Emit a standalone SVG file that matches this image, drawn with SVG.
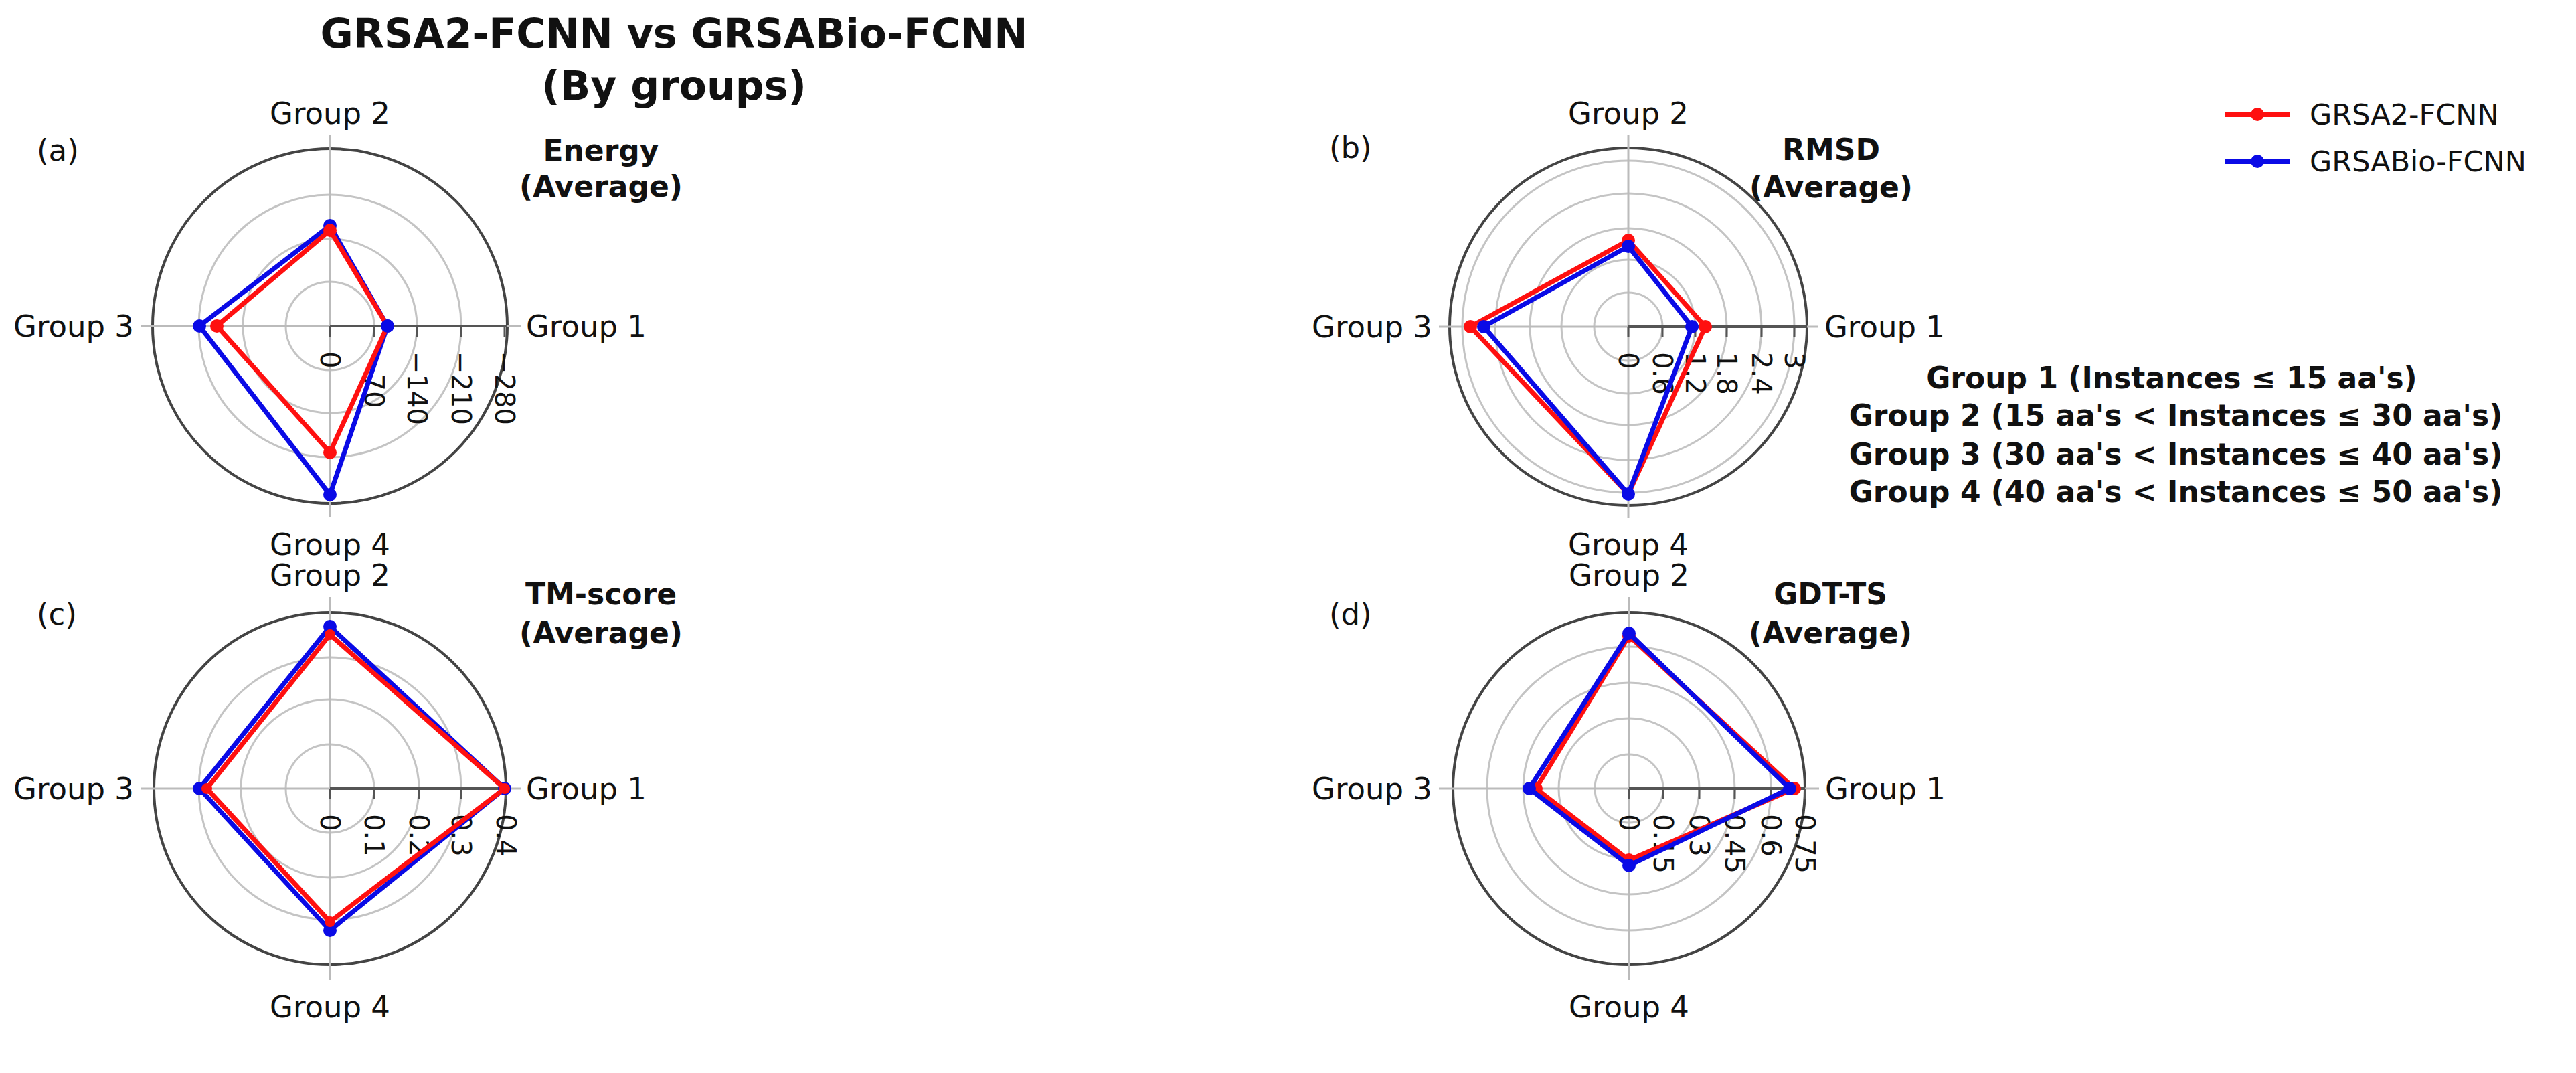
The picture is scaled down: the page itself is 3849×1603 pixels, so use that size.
<svg xmlns="http://www.w3.org/2000/svg" width="3849" height="1603" viewBox="0 0 3849 1603">
<style>
text{font-family:"DejaVu Sans","Verdana",sans-serif;fill:#111}
.lab{font-size:45px;dominant-baseline:central}
.tk{font-size:40px;dominant-baseline:central}
.b{font-weight:bold;font-size:44px;text-anchor:middle;dominant-baseline:central}
.grid{fill:none;stroke:#c4c4c4;stroke-width:3}
.outer{fill:none;stroke:#444;stroke-width:4}
.ax{stroke:#bbb;stroke-width:3}
.rax{stroke:#555;stroke-width:4}
.red{fill:none;stroke:#ff1010;stroke-width:7;stroke-linejoin:round}
.blue{fill:none;stroke:#0a0ae6;stroke-width:7;stroke-linejoin:round}
.rm{fill:#ff1010}.bm{fill:#0a0ae6}
</style>
<rect width="3849" height="1603" fill="#fff"/>
<g id="title">
<text x="1007" y="50" style="font-weight:bold;font-size:60px;text-anchor:middle;dominant-baseline:central">GRSA2-FCNN vs GRSABio-FCNN</text>
<text x="1007" y="128" style="font-weight:bold;font-size:60px;text-anchor:middle;dominant-baseline:central">(By groups)</text>
</g>
<g id="legend">
<line x1="3324" y1="171" x2="3421" y2="171" stroke="#ff1010" stroke-width="8"/><circle cx="3373" cy="171" r="10" class="rm"/>
<text x="3451" y="171" class="lab" style="font-size:43px">GRSA2-FCNN</text>
<line x1="3324" y1="241" x2="3421" y2="241" stroke="#0a0ae6" stroke-width="8"/><circle cx="3373" cy="241" r="10" class="bm"/>
<text x="3451" y="241" class="lab" style="font-size:43px">GRSABio-FCNN</text>
</g>
<g id="groupinfo">
<text x="3245" y="564" class="b">Group 1 (Instances ≤ 15 aa's)</text>
<text x="3251" y="620" class="b">Group 2 (15 aa's &lt; Instances ≤ 30 aa's)</text>
<text x="3251" y="678" class="b">Group 3 (30 aa's &lt; Instances ≤ 40 aa's)</text>
<text x="3251" y="734" class="b">Group 4 (40 aa's &lt; Instances ≤ 50 aa's)</text>
</g>

<g id="panel-a">
<text x="55" y="224" class="lab">(a)</text>
<text x="898" y="224" class="b">Energy</text><text x="898" y="278" class="b">(Average)</text>
<circle cx="493" cy="487" r="66" class="grid"/><circle cx="493" cy="487" r="130" class="grid"/><circle cx="493" cy="487" r="196" class="grid"/>
<circle cx="493" cy="487" r="265" class="outer" stroke-width="6"/>
<line x1="210" y1="487" x2="778" y2="487" class="ax"/><line x1="493" y1="201" x2="493" y2="773" class="ax"/>
<line x1="493" y1="487" x2="758" y2="487" class="rax"/>
<path d="M493 487v16M559 487v16M623 487v16M689 487v16M754 487v16" stroke="#555" stroke-width="3"/>
<text class="tk" transform="translate(493,525) rotate(90)">0</text>
<text class="tk" transform="translate(559,525) rotate(90)">−70</text>
<text class="tk" transform="translate(623,525) rotate(90)">−140</text>
<text class="tk" transform="translate(689,525) rotate(90)">−210</text>
<text class="tk" transform="translate(754,525) rotate(90)">−280</text>
<text x="493" y="169" class="lab" text-anchor="middle">Group 2</text>
<text x="200" y="487" class="lab" text-anchor="end">Group 3</text>
<text x="786" y="487" class="lab">Group 1</text>
<text x="493" y="813" class="lab" text-anchor="middle">Group 4</text>
<polygon points="579,487 493,337 298,487 493,739" class="blue"/>
<g class="bm"><circle cx="579" cy="487" r="10"/><circle cx="493" cy="337" r="10"/><circle cx="298" cy="487" r="10"/><circle cx="493" cy="739" r="10"/></g>
<polygon points="579,487 493,344 324,487 493,676" class="red"/>
<g class="rm"><circle cx="493" cy="344" r="10"/><circle cx="324" cy="487" r="10"/><circle cx="493" cy="676" r="10"/></g>
<circle cx="579" cy="487" r="10" class="bm"/>
</g>

<g id="panel-b">
<text x="1986" y="220" class="lab">(b)</text>
<text x="2736" y="223" class="b">RMSD</text><text x="2736" y="279" class="b">(Average)</text>
<circle cx="2433" cy="488" r="51" class="grid"/><circle cx="2433" cy="488" r="100" class="grid"/><circle cx="2433" cy="488" r="147" class="grid"/><circle cx="2433" cy="488" r="199" class="grid"/><circle cx="2433" cy="488" r="248" class="grid"/>
<circle cx="2433" cy="488" r="267" class="outer"/>
<line x1="2150" y1="488" x2="2716" y2="488" class="ax"/><line x1="2433" y1="202" x2="2433" y2="774" class="ax"/>
<line x1="2433" y1="488" x2="2700" y2="488" class="rax"/>
<path d="M2433 488v16M2484 488v16M2533 488v16M2580 488v16M2632 488v16M2681 488v16" stroke="#555" stroke-width="3"/>
<text class="tk" transform="translate(2433,526) rotate(90)">0</text>
<text class="tk" transform="translate(2484,526) rotate(90)">0.6</text>
<text class="tk" transform="translate(2533,526) rotate(90)">1.2</text>
<text class="tk" transform="translate(2580,526) rotate(90)">1.8</text>
<text class="tk" transform="translate(2632,526) rotate(90)">2.4</text>
<text class="tk" transform="translate(2681,526) rotate(90)">3</text>
<text x="2433" y="169" class="lab" text-anchor="middle">Group 2</text>
<text x="2140" y="488" class="lab" text-anchor="end">Group 3</text>
<text x="2726" y="488" class="lab">Group 1</text>
<text x="2433" y="813" class="lab" text-anchor="middle">Group 4</text>
<polygon points="2548,488 2433,359 2197,488 2433,738" class="red"/>
<g class="rm"><circle cx="2548" cy="488" r="10"/><circle cx="2433" cy="359" r="10"/><circle cx="2197" cy="488" r="10"/></g>
<polygon points="2528,488 2433,368 2217,488 2433,738" class="blue"/>
<g class="bm"><circle cx="2528" cy="488" r="10"/><circle cx="2433" cy="368" r="10"/><circle cx="2217" cy="488" r="10"/><circle cx="2433" cy="738" r="10"/></g>
</g>

<g id="panel-c">
<text x="55" y="917" class="lab">(c)</text>
<text x="898" y="887" class="b">TM-score</text><text x="898" y="945" class="b">(Average)</text>
<circle cx="493" cy="1178" r="66" class="grid"/><circle cx="493" cy="1178" r="133" class="grid"/><circle cx="493" cy="1178" r="196" class="grid"/>
<circle cx="493" cy="1178" r="263" class="outer"/>
<line x1="210" y1="1178" x2="778" y2="1178" class="ax"/><line x1="493" y1="892" x2="493" y2="1464" class="ax"/>
<line x1="493" y1="1178" x2="756" y2="1178" class="rax"/>
<path d="M493 1178v16M559 1178v16M626 1178v16M689 1178v16M756 1178v16" stroke="#555" stroke-width="3"/>
<text class="tk" transform="translate(493,1216) rotate(90)">0</text>
<text class="tk" transform="translate(559,1216) rotate(90)">0.1</text>
<text class="tk" transform="translate(626,1216) rotate(90)">0.2</text>
<text class="tk" transform="translate(689,1216) rotate(90)">0.3</text>
<text class="tk" transform="translate(756,1216) rotate(90)">0.4</text>
<text x="493" y="859" class="lab" text-anchor="middle">Group 2</text>
<text x="200" y="1178" class="lab" text-anchor="end">Group 3</text>
<text x="786" y="1178" class="lab">Group 1</text>
<text x="493" y="1504" class="lab" text-anchor="middle">Group 4</text>
<polygon points="754,1178 493,936 298,1178 493,1390" class="blue"/>
<g class="bm"><circle cx="754" cy="1178" r="10"/><circle cx="493" cy="936" r="10"/><circle cx="298" cy="1178" r="10"/><circle cx="493" cy="1390" r="10"/></g>
<polygon points="754,1178 493,948 309,1178 493,1377" class="red"/>
<g class="rm"><circle cx="754" cy="1178" r="8"/><circle cx="493" cy="948" r="8"/><circle cx="309" cy="1178" r="8"/><circle cx="493" cy="1377" r="8"/></g>
</g>

<g id="panel-d">
<text x="1986" y="917" class="lab">(d)</text>
<text x="2735" y="887" class="b">GDT-TS</text><text x="2735" y="945" class="b">(Average)</text>
<circle cx="2434" cy="1178" r="51" class="grid"/><circle cx="2434" cy="1178" r="105" class="grid"/><circle cx="2434" cy="1178" r="158" class="grid"/><circle cx="2434" cy="1178" r="212" class="grid"/>
<circle cx="2434" cy="1178" r="263" class="outer"/>
<line x1="2150" y1="1178" x2="2718" y2="1178" class="ax"/><line x1="2434" y1="892" x2="2434" y2="1464" class="ax"/>
<line x1="2434" y1="1178" x2="2697" y2="1178" class="rax"/>
<path d="M2434 1178v16M2485 1178v16M2539 1178v16M2592 1178v16M2646 1178v16M2697 1178v16" stroke="#555" stroke-width="3"/>
<text class="tk" transform="translate(2434,1216) rotate(90)">0</text>
<text class="tk" transform="translate(2485,1216) rotate(90)">0.15</text>
<text class="tk" transform="translate(2539,1216) rotate(90)">0.3</text>
<text class="tk" transform="translate(2592,1216) rotate(90)">0.45</text>
<text class="tk" transform="translate(2646,1216) rotate(90)">0.6</text>
<text class="tk" transform="translate(2697,1216) rotate(90)">0.75</text>
<text x="2434" y="859" class="lab" text-anchor="middle">Group 2</text>
<text x="2140" y="1178" class="lab" text-anchor="end">Group 3</text>
<text x="2727" y="1178" class="lab">Group 1</text>
<text x="2434" y="1504" class="lab" text-anchor="middle">Group 4</text>
<polygon points="2681,1178 2434,950 2295,1178 2434,1285" class="red"/>
<g class="rm"><circle cx="2681" cy="1178" r="10"/><circle cx="2434" cy="950" r="10"/><circle cx="2295" cy="1178" r="10"/><circle cx="2434" cy="1285" r="10"/></g>
<polygon points="2674,1178 2434,946 2285,1178 2434,1293" class="blue"/>
<g class="bm"><circle cx="2674" cy="1178" r="10"/><circle cx="2434" cy="946" r="10"/><circle cx="2285" cy="1178" r="10"/><circle cx="2434" cy="1293" r="10"/></g>
</g>
</svg>
